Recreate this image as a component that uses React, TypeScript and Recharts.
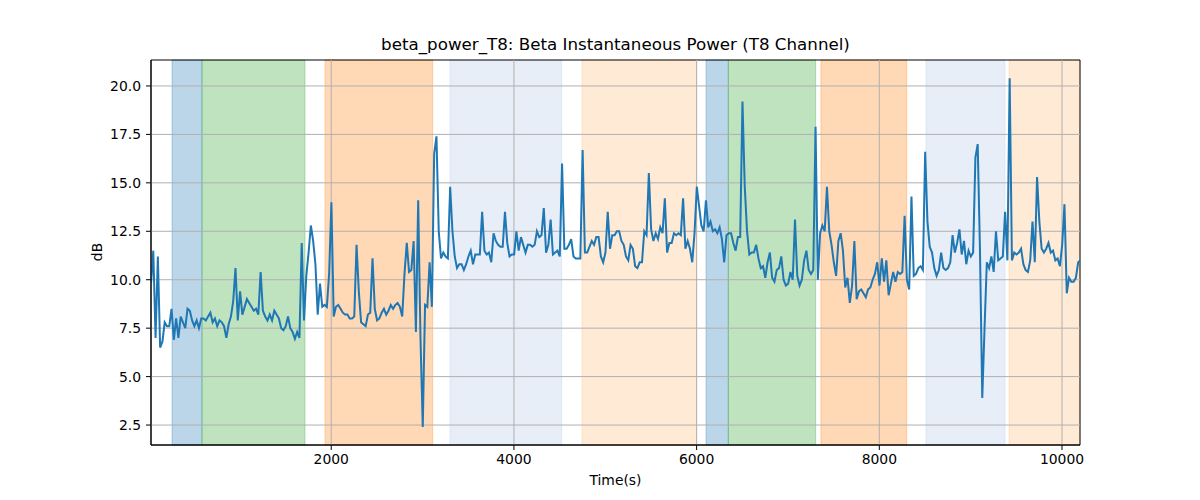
import React from "react";
import { LineChart, Line, XAxis, YAxis, ReferenceArea, ReferenceLine } from "recharts";

const T0 = 27;
const DT = 25;
const power = [
  9.8, 11.5, 7.0, 11.2, 6.5, 6.8, 7.8, 7.6, 7.6, 8.5,
  6.9, 8.0, 7.0, 8.1, 7.8, 7.5, 8.5, 8.4, 7.9, 7.6,
  7.9, 7.5, 8.0, 8.0, 7.9, 8.1, 8.3, 7.8, 8.0, 7.6,
  7.9, 7.8, 7.6, 7.0, 7.7, 8.1, 8.9, 10.6, 7.9, 9.4,
  8.2, 8.6, 9.0, 8.8, 8.6, 8.4, 8.5, 8.2, 10.4, 8.4,
  8.1, 7.9, 8.2, 7.9, 8.4, 8.2, 8.0, 7.5, 7.4, 7.6,
  8.1, 7.5, 7.3, 6.95, 7.3, 7.0, 11.9, 7.9, 10.2, 11.4,
  12.8, 12.0, 10.8, 8.2, 9.8, 8.6, 8.7, 8.6, 10.3, 14.0,
  8.1, 8.6, 8.7, 8.5, 8.3, 8.2, 8.2, 8.0, 8.0, 8.1,
  11.8, 9.4, 7.8, 7.7, 7.6, 8.2, 8.3, 11.1, 8.5, 7.9,
  8.0, 8.3, 8.5, 8.2, 8.4, 8.7, 8.5, 8.7, 8.8, 8.6,
  8.1, 10.3, 11.9, 10.4, 10.5, 12.0, 7.3, 14.1, 7.0, 2.4,
  8.7, 8.6, 10.9, 8.6, 16.5, 17.4, 12.5, 11.1, 11.4, 11.2,
  11.1, 14.8, 12.5, 11.2, 10.6, 10.8, 10.8, 10.5, 10.8, 11.2,
  11.5, 10.8, 11.3, 11.3, 11.3, 13.5, 11.5, 11.3, 11.4, 10.9,
  12.4, 12.0, 11.8, 11.7, 11.7, 13.5, 11.9, 11.2, 11.3, 11.3,
  12.5, 11.5, 12.2, 11.8, 11.4, 11.8, 11.8, 11.7, 11.8, 12.5,
  12.2, 12.3, 13.7, 11.4, 11.8, 13.1, 11.3, 11.4, 11.5, 11.2,
  16.0, 11.6, 11.6, 11.8, 12.1, 11.2, 11.1, 11.1, 11.1, 16.7,
  11.4, 11.4, 11.7, 12.0, 11.8, 12.2, 12.2, 11.2, 10.9, 11.4,
  13.5, 11.6, 12.3, 12.3, 12.5, 12.5, 12.0, 11.8, 11.2, 11.0,
  11.8, 11.6, 10.7, 10.6, 10.9, 10.9, 12.5, 12.3, 15.5, 12.6,
  12.0, 12.4, 12.1, 12.7, 12.4, 14.2, 11.4, 11.9, 11.9, 12.4,
  12.3, 12.4, 12.3, 14.2, 11.6, 12.0, 11.6, 10.9, 12.4, 14.8,
  13.8, 12.8, 12.5, 14.1, 12.7, 13.0, 12.5, 12.6, 12.4, 12.7,
  12.1, 10.9, 12.3, 12.4, 12.4, 11.9, 11.5, 12.2, 12.2, 19.2,
  14.8, 12.5, 11.3, 11.4, 11.4, 11.8, 11.1, 10.6, 10.7, 10.1,
  10.9, 11.4, 10.1, 9.9, 10.5, 10.6, 11.2, 10.0, 9.7, 9.8,
  10.4, 10.0, 13.1, 10.2, 9.7, 10.0, 11.0, 11.5, 10.5, 10.3,
  10.5, 17.9, 10.0, 12.4, 12.8, 12.5, 14.8, 12.5, 11.8, 10.9,
  10.2, 12.0, 12.4, 11.5, 9.6, 10.1, 8.8, 9.7, 12.0, 9.0,
  9.4, 9.5, 9.3, 9.1, 9.5, 9.6, 10.0, 10.3, 10.9, 9.7,
  11.1, 9.9, 11.0, 9.2, 9.8, 10.4, 9.9, 10.4, 10.3, 10.4,
  13.3, 10.0, 9.5, 14.3, 10.2, 10.3, 10.6, 10.7, 10.5, 16.6,
  13.0, 11.7, 11.4, 10.6, 10.2, 10.5, 11.4, 10.6, 10.5, 10.6,
  10.9, 12.3, 11.4, 11.9, 12.6, 11.3, 12.0, 10.8, 11.5, 11.2,
  11.4, 16.3, 17.0, 11.5, 3.9, 7.5, 10.9, 10.6, 11.2, 10.4,
  12.5, 11.0, 11.1, 11.2, 13.5, 11.0, 20.4, 11.0, 11.4, 11.3,
  11.4, 11.6, 10.8, 10.5, 10.4, 11.0, 13.0, 10.9, 15.3, 13.0,
  11.6, 11.4, 11.6, 11.9, 11.4, 11.5, 11.0, 11.1, 10.7, 11.8,
  13.9, 9.3, 10.1, 9.9, 9.9, 10.1, 10.9, 11.0,
];

// shaded task segments (seconds)
const spanStart = [257, 585, 1932, 3300, 4745, 6103, 6347, 7361, 8511, 9420];
const spanEnd = [585, 1713, 3111, 4523, 6001, 6347, 7303, 8300, 9376, 10197];
const spanKind = [
  "blue", "green", "orange", "lightblue", "lightorange",
  "blue", "green", "orange", "lightblue", "lightorange",
];

const xTicks = [2000, 4000, 6000, 8000, 10000];
const yTicks = [2.5, 5, 7.5, 10, 12.5, 15, 17.5, 20];

const X_MIN = 27;
const X_MAX = 10197;
const Y_MIN = 1.47;
const Y_MAX = 21.34;

const spanColors: Record<string, string> = {
  blue: "#1f77b4",
  green: "#2ca02c",
  orange: "#ff7f0e",
  lightblue: "#aec7e8",
  lightorange: "#ffbb78",
};

const font = "'DejaVu Sans', sans-serif";

export default function App() {
  const data = power.map((v, i) => ({ t: T0 + i * DT, v }));

  return (
    <div style={{ position: "absolute", left: 0, top: 0, width: 1200, height: 500, background: "#fff", fontFamily: font }}>
      <div
        style={{
          position: "absolute",
          top: 34,
          left: 151,
          width: 929,
          textAlign: "center",
          fontSize: 16.7,
          color: "#000",
        }}
      >
        beta_power_T8: Beta Instantaneous Power (T8 Channel)
      </div>
      <div style={{ position: "absolute", top: 472, left: 151, width: 929, textAlign: "center", fontSize: 13.9 }}>
        Time(s)
      </div>
      <div
        style={{
          position: "absolute",
          left: 97,
          top: 252,
          transform: "translate(-50%, -50%) rotate(-90deg)",
          fontSize: 13.9,
        }}
      >
        dB
      </div>
      <LineChart width={1200} height={500} data={data} margin={{ top: 60, right: 120, bottom: 0, left: 0 }}>
        <XAxis
          dataKey="t"
          type="number"
          domain={[X_MIN, X_MAX]}
          allowDataOverflow
          ticks={xTicks}
          height={55}
          tickSize={5}
          tickMargin={4}
          stroke="#000"
          tick={{ fill: "#000", fontSize: 13.9, fontFamily: font }}
        />
        <YAxis
          type="number"
          domain={[Y_MIN, Y_MAX]}
          allowDataOverflow
          ticks={yTicks}
          width={151}
          tickSize={5}
          tickMargin={5}
          stroke="#000"
          tickFormatter={(v: number) => v.toFixed(1)}
          tick={{ fill: "#000", fontSize: 13.9, fontFamily: font }}
        />
        {spanStart.map((s, i) => (
          <ReferenceArea
            key={`span-${i}`}
            x1={s}
            x2={spanEnd[i]}
            y1={Y_MIN}
            y2={Y_MAX}
            fill={spanColors[spanKind[i]]}
            fillOpacity={0.3}
            stroke={spanColors[spanKind[i]]}
            strokeOpacity={0.3}
          />
        ))}
        {xTicks.map((x) => (
          <ReferenceLine key={`gx-${x}`} x={x} stroke="#b0b0b0" strokeWidth={1} />
        ))}
        {yTicks.map((y) => (
          <ReferenceLine key={`gy-${y}`} y={y} stroke="#b0b0b0" strokeWidth={1} />
        ))}
        <Line
          type="linear"
          dataKey="v"
          stroke="#1f77b4"
          strokeWidth={2}
          dot={false}
          isAnimationActive={false}
        />
        <ReferenceArea x1={X_MIN} x2={X_MAX} y1={Y_MIN} y2={Y_MAX} fill="none" stroke="#000" strokeWidth={1} />
      </LineChart>
    </div>
  );
}
